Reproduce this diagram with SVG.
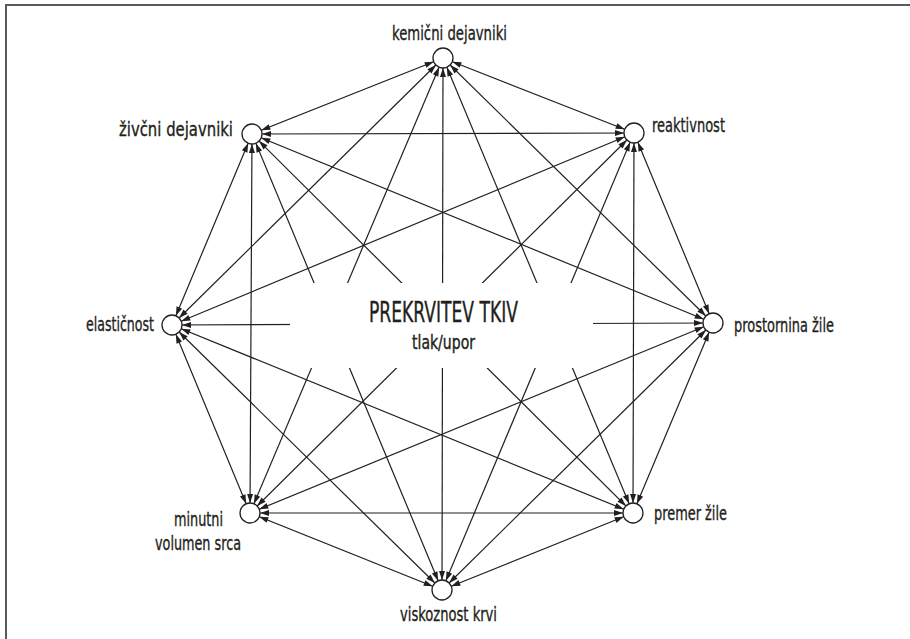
<svg xmlns="http://www.w3.org/2000/svg" width="910" height="639" viewBox="0 0 910 639">
<style>
.lbl{font-family:"DejaVu Sans Condensed","DejaVu Sans",sans-serif;font-stretch:condensed;font-size:20px;fill:#231f20;stroke:#231f20;stroke-width:0.35}
.ttl{font-family:"DejaVu Sans Condensed","DejaVu Sans",sans-serif;font-stretch:condensed;fill:#231f20;stroke:#231f20;stroke-width:0.4}
.edge line{stroke:#231f20;stroke-width:1.2;marker-start:url(#ah);marker-end:url(#ah)}
.node circle{fill:#fff;stroke:#231f20;stroke-width:1.3}
</style>
<defs>
<marker id="ah" markerUnits="userSpaceOnUse" markerWidth="20" markerHeight="6" refX="19" refY="3" orient="auto-start-reverse" overflow="visible">
<path d="M0,0 L9,3 L0,6 z" fill="#231f20"/>
</marker>
</defs>
<rect width="910" height="639" fill="#fff"/>
<path d="M6,639 V5 H910" fill="none" stroke="#5a5a5a" stroke-width="2"/>
<g id="connectors" class="edge">
<line x1="443" y1="58" x2="634" y2="133"/>
<line x1="443" y1="58" x2="713" y2="323"/>
<line x1="443" y1="58" x2="633" y2="513"/>
<line x1="443" y1="58" x2="442" y2="590"/>
<line x1="443" y1="58" x2="250" y2="513"/>
<line x1="443" y1="58" x2="172" y2="325"/>
<line x1="443" y1="58" x2="252" y2="134"/>
<line x1="634" y1="133" x2="713" y2="323"/>
<line x1="634" y1="133" x2="633" y2="513"/>
<line x1="634" y1="133" x2="442" y2="590"/>
<line x1="634" y1="133" x2="250" y2="513"/>
<line x1="634" y1="133" x2="172" y2="325"/>
<line x1="634" y1="133" x2="252" y2="134"/>
<line x1="713" y1="323" x2="633" y2="513"/>
<line x1="713" y1="323" x2="442" y2="590"/>
<line x1="713" y1="323" x2="250" y2="513"/>
<line x1="713" y1="323" x2="172" y2="325"/>
<line x1="713" y1="323" x2="252" y2="134"/>
<line x1="633" y1="513" x2="442" y2="590"/>
<line x1="633" y1="513" x2="250" y2="513"/>
<line x1="633" y1="513" x2="172" y2="325"/>
<line x1="633" y1="513" x2="252" y2="134"/>
<line x1="442" y1="590" x2="250" y2="513"/>
<line x1="442" y1="590" x2="172" y2="325"/>
<line x1="442" y1="590" x2="252" y2="134"/>
<line x1="250" y1="513" x2="172" y2="325"/>
<line x1="250" y1="513" x2="252" y2="134"/>
<line x1="172" y1="325" x2="252" y2="134"/>
</g>
<g id="center">
<rect x="290" y="283" width="303" height="85" fill="#fff"/>
<text class="ttl" x="369" y="322" font-size="29" textLength="149" lengthAdjust="spacingAndGlyphs">PREKRVITEV TKIV</text>
<text class="ttl" x="412" y="349" font-size="20" textLength="63" lengthAdjust="spacingAndGlyphs">tlak/upor</text>
</g>
<g id="n-kemicni" class="node"><circle cx="443" cy="58" r="10"/><text class="lbl" x="392" y="40" textLength="115" lengthAdjust="spacingAndGlyphs">kemični dejavniki</text></g>
<g id="n-reaktivnost" class="node"><circle cx="634" cy="133" r="10"/><text class="lbl" x="652" y="132" textLength="73" lengthAdjust="spacingAndGlyphs">reaktivnost</text></g>
<g id="n-prostornina" class="node"><circle cx="713" cy="323" r="10"/><text class="lbl" x="734" y="332" textLength="100" lengthAdjust="spacingAndGlyphs">prostornina žile</text></g>
<g id="n-premer" class="node"><circle cx="633" cy="513" r="10"/><text class="lbl" x="654" y="520" textLength="73" lengthAdjust="spacingAndGlyphs">premer žile</text></g>
<g id="n-viskoznost" class="node"><circle cx="442" cy="590" r="10"/><text class="lbl" x="400" y="621" textLength="97" lengthAdjust="spacingAndGlyphs">viskoznost krvi</text></g>
<g id="n-minutni" class="node"><circle cx="250" cy="513" r="10"/><text class="lbl" x="174" y="526" textLength="49" lengthAdjust="spacingAndGlyphs">minutni</text><text class="lbl" x="155" y="550" textLength="86" lengthAdjust="spacingAndGlyphs">volumen srca</text></g>
<g id="n-elasticnost" class="node"><circle cx="172" cy="325" r="10"/><text class="lbl" x="86" y="331" textLength="68" lengthAdjust="spacingAndGlyphs">elastičnost</text></g>
<g id="n-zivcni" class="node"><circle cx="252" cy="134" r="10"/><text class="lbl" x="119" y="136" textLength="114" lengthAdjust="spacingAndGlyphs">živčni dejavniki</text></g>
</svg>
